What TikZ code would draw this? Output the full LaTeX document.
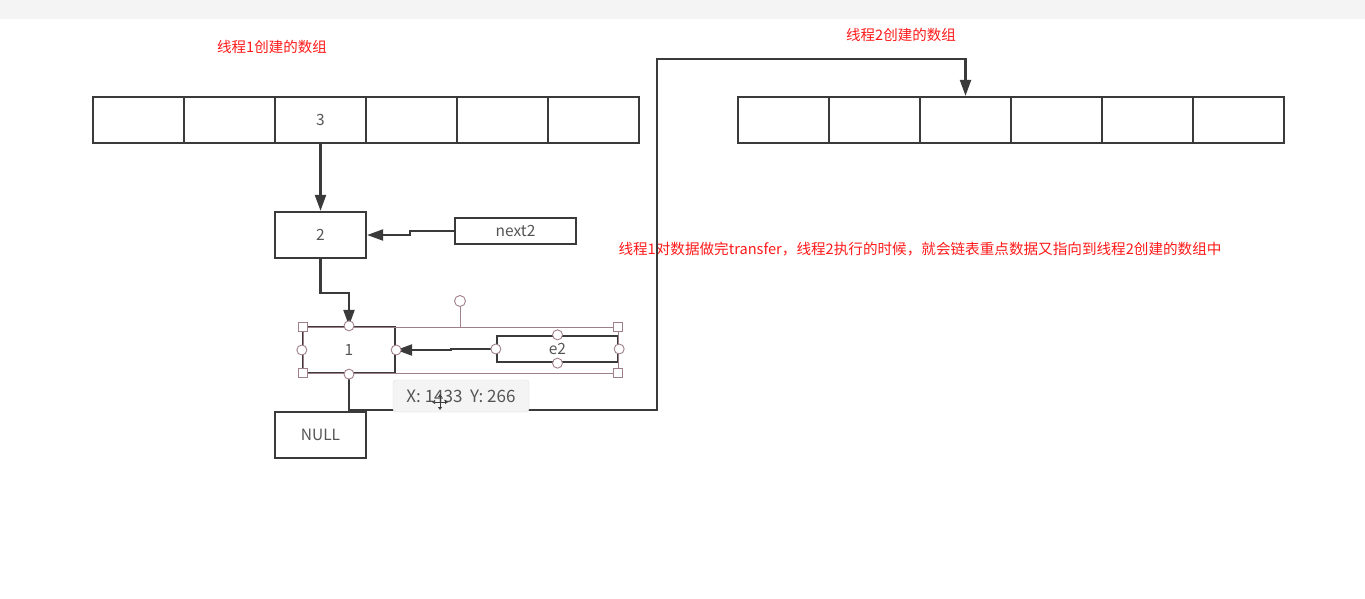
\documentclass[tikz,border=0pt]{standalone}
\usepackage{fontspec}
\setmainfont{Noto Sans CJK SC}
\newfontfamily\cjk{Noto Sans CJK SC}
\usetikzlibrary{arrows.meta,calc}
\definecolor{linec}{HTML}{3A3A3A}
\definecolor{textc}{HTML}{555555}
\definecolor{barc}{HTML}{F4F4F4}
\definecolor{selc}{HTML}{A08088}
\definecolor{redc}{HTML}{FF1A1A}
\definecolor{tipfill}{HTML}{F4F4F4}
\definecolor{tipdraw}{HTML}{DDDDDD}
\tikzset{
  cell/.style={draw=linec, line width=2.3pt, minimum width=91pt, minimum height=46pt, inner sep=0pt, text=textc, font=\fontsize{15.5}{17}\selectfont},
  ptr/.style={cell, minimum width=121pt, minimum height=26pt},
  conn/.style={draw=linec, line width=2.2pt, -{Triangle[length=16pt,width=11pt]}},
  lbl/.style={text=redc, inner sep=0pt, font=\cjk\fontsize{14.5}{16}\selectfont},
  selbox/.style={draw=selc, line width=0.8pt},
  sqh/.style={draw=selc, fill=white, line width=0.9pt, minimum size=9pt, inner sep=0pt, rectangle},
  cih/.style={draw=selc, fill=white, line width=0.9pt, minimum size=10pt, inner sep=0pt, circle},
}
\begin{document}
\begin{tikzpicture}[x=1pt,y=-1pt]
\useasboundingbox (0,0) rectangle (1365,599);
\fill[white] (0,0) rectangle (1365,599);
\fill[barc] (0,0) rectangle (1365,19);

% labels
\node[lbl] (t1) at (272,47) {线程1创建的数组};
\node[lbl] (t2) at (901,35) {线程2创建的数组};
\node[lbl, font=\cjk\fontsize{14.6}{16}\selectfont] (t3) at (920,249) {线程1对数据做完transfer，线程2执行的时候，就会链表重点数据又指向到线程2创建的数组中};

% left array
\foreach \i/\x in {1/138.5,2/229.5,4/411.5,5/502.5,6/593.5}
  \node[cell] (L\i) at (\x,120) {};
\node[cell] (L3) at (320.5,120) {3};
% right array
\foreach \i/\x in {1/783.5,2/874.5,3/965.5,4/1056.5,5/1147.5,6/1238.5}
  \node[cell] (R\i) at (\x,120) {};

% list nodes
\node[cell] (n2) at (320.5,235) {2};
\node[ptr] (next2) at (515.5,231) {next2};
\node[cell, minimum width=92pt] (n1) at (349,350) {1};
\node[ptr] (e2) at (557.5,349) {e2};
\node[cell] (nul) at (320.5,435) {NULL};

\coordinate (b1) at (657,410);
\coordinate (b2) at (657,59);

% connectors
\draw[conn] (L3.south) -- (n2.north);
\draw[conn] (next2.west) -- ++(-44,0) |- (n2.east);
\draw[conn] (n2.south) -- ++(0,34) -| (n1.north);
\draw[conn] (e2.west) -- ++(-45,0) |- (n1.east);
\draw[conn] (n1.south) |- (b1) -- (b2) -| (R3.north);

% selection overlay
\coordinate (s1) at (303,327);
\coordinate (s2) at (618,373);
\draw[selbox] (s1) rectangle (s2);
\coordinate (rt) at (460,327);
\node[cih, minimum size=11pt] (rot) at (460,301) {};
\draw[selbox] (rt) -- (rot.south);
\node[sqh] (h1) at (303,327) {};
\node[sqh] (h2) at (618,327) {};
\node[sqh] (h3) at (303,373) {};
\node[sqh] (h4) at (618,373) {};
\node[cih] (c1) at (n1.north) {};
\node[cih] (c2) at (n1.south) {};
\node[cih] (c3) at (n1.west) {};
\node[cih] (c4) at (n1.east) {};
\node[cih] (c5) at (e2.west) {};
\node[cih] (c6) at (e2.east) {};
\node[cih] (c7) at (e2.north) {};
\node[cih] (c8) at (e2.south) {};

% tooltip
\node[draw=tipdraw, fill=tipfill, rounded corners=3pt, minimum width=136pt, minimum height=32pt, inner sep=0pt, text=textc, font=\fontsize{17}{19}\selectfont] (tip) at (461,396) {X: 1433\ \ Y: 266};
% cursor
\coordinate (cur) at (440,402);
\draw[linec, line width=0.8pt, {Triangle[length=3pt,width=4pt,open]}-{Triangle[length=3pt,width=4pt,open]}] ($(cur)+(-8,0)$) -- ($(cur)+(8,0)$);
\draw[linec, line width=0.8pt, {Triangle[length=3pt,width=4pt,open]}-{Triangle[length=3pt,width=4pt,open]}] ($(cur)+(0,-8)$) -- ($(cur)+(0,8)$);
\end{tikzpicture}
\end{document}
